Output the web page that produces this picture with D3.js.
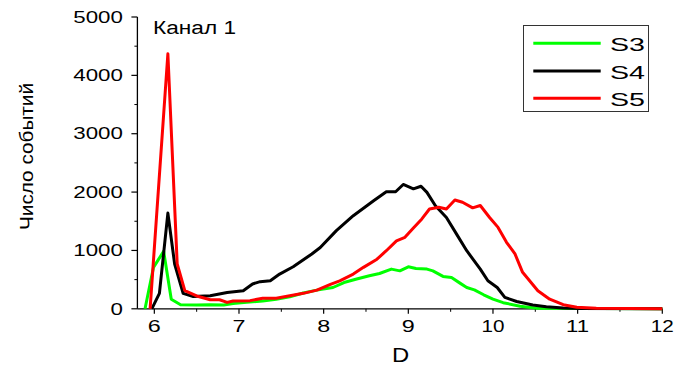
<!DOCTYPE html>
<html><head><meta charset="utf-8">
<script src="https://cdn.jsdelivr.net/npm/d3@7"></script>
<style>
html,body{margin:0;padding:0;background:#fff;}
svg{display:block;}
text{font-family:"Liberation Sans",Arial,sans-serif;fill:#000;}
</style></head>
<body>
<svg id="chart" width="679" height="366"></svg>
<script>
// ---- data ----
const s3D = [5.89,5.99,6.11,6.20,6.31,6.50,6.66,6.82,6.93,7.09,7.28,7.44,7.60,7.76,7.92,8.11,8.24,8.39,8.54,8.66,8.80,8.90,9.00,9.09,9.22,9.29,9.41,9.51,9.61,9.69,9.78,9.89,10.00,10.12,10.32,10.52,12.0];
const s3V = [0,710,985,165,70,65,70,65,90,110,135,165,205,270,320,365,450,510,565,605,680,650,720,690,680,650,555,535,440,365,325,240,165,105,45,10,0];

const s4D = [5.97,6.06,6.16,6.24,6.34,6.46,6.66,6.86,7.05,7.16,7.25,7.37,7.48,7.64,7.86,7.96,8.15,8.35,8.59,8.74,8.85,8.94,9.06,9.15,9.22,9.32,9.45,9.57,9.69,9.85,9.94,10.05,10.14,10.28,10.47,10.63,10.83,11.02,12.0];
const s4V = [0,265,1640,765,265,210,225,280,310,425,465,480,595,720,940,1050,1340,1595,1850,2005,2005,2130,2055,2100,1995,1765,1565,1280,995,680,480,365,195,125,65,35,15,5,0];

const s5D = [5.95,6.16,6.27,6.36,6.50,6.66,6.77,6.86,6.93,7.13,7.28,7.44,7.60,7.76,7.92,8.08,8.19,8.35,8.47,8.63,8.74,8.86,8.96,9.06,9.16,9.25,9.36,9.45,9.55,9.64,9.76,9.85,9.96,10.06,10.16,10.26,10.35,10.53,10.67,10.83,10.99,11.22,12.0];
const s5V = [0,4370,770,310,220,155,155,110,135,140,180,180,225,265,320,420,480,595,710,850,995,1165,1225,1385,1540,1710,1740,1710,1865,1825,1730,1770,1565,1395,1140,940,625,310,165,70,25,10,0];

const seriesNames = ["S3","S4","S5"];
const seriesColors = ["#00ff00","#000000","#ff0000"];
const xTicks = [6,7,8,9,10,11,12];
const yTicks = [0,1000,2000,3000,4000,5000];
const xLabel = "D";
const yLabel = "Число событий";
const annotation = "Канал 1";

const series = [
  {name:seriesNames[0], color:seriesColors[0], pts:s3D.map((d,i)=>[d,s3V[i]])},
  {name:seriesNames[1], color:seriesColors[1], pts:s4D.map((d,i)=>[d,s4V[i]])},
  {name:seriesNames[2], color:seriesColors[2], pts:s5D.map((d,i)=>[d,s5V[i]])}
];

const svg = d3.select("#chart");
const x = d3.scaleLinear().domain([5.8,12]).range([137.4,662.3]);
const y = d3.scaleLinear().domain([0,5000]).range([308.8,17]);

const xMinor = d3.range(6.5,12,1);
const yMinor = d3.range(500,5000,1000);

const gx = svg.append("g").attr("transform",`translate(0,${y(0)})`);
gx.append("line").attr("x1",x(5.8)).attr("x2",x(12)).attr("stroke","#000").attr("stroke-width",1.3);
gx.selectAll(".mj").data(xTicks).join("line").attr("class","mj").attr("x1",d=>x(d)).attr("x2",d=>x(d)).attr("y1",0).attr("y2",5).attr("stroke","#000").attr("stroke-width",1.2);
gx.selectAll(".mn").data(xMinor).join("line").attr("class","mn").attr("x1",d=>x(d)).attr("x2",d=>x(d)).attr("y1",0).attr("y2",3).attr("stroke","#000").attr("stroke-width",1);
gx.selectAll("text").data(xTicks).join("text")
  .attr("x",d=>x(d)).attr("y",23.5).attr("text-anchor","middle")
  .attr("font-size",16.3)
  .attr("textLength",d=>String(d).length===1?13:23).attr("lengthAdjust","spacingAndGlyphs")
  .text(d=>d);

const gy = svg.append("g").attr("transform",`translate(${x(5.8)},0)`);
gy.append("line").attr("y1",y(0)).attr("y2",y(5000)).attr("stroke","#000").attr("stroke-width",1.3);
gy.selectAll(".mj").data(yTicks).join("line").attr("class","mj").attr("y1",d=>y(d)).attr("y2",d=>y(d)).attr("x1",0).attr("x2",-6).attr("stroke","#000").attr("stroke-width",1.2);
gy.selectAll(".mn").data(yMinor).join("line").attr("class","mn").attr("y1",d=>y(d)).attr("y2",d=>y(d)).attr("x1",0).attr("x2",-3).attr("stroke","#000").attr("stroke-width",1);
gy.selectAll("text").data(yTicks).join("text")
  .attr("x",-14.5).attr("y",d=>y(d)+5.7).attr("text-anchor","end")
  .attr("font-size",16)
  .attr("textLength",d=>String(d).length*12.4).attr("lengthAdjust","spacingAndGlyphs")
  .text(d=>d);

// lines
const line = d3.line().x(d=>x(d[0])).y(d=>y(d[1]));
svg.append("g").selectAll("path").data(series).join("path")
  .attr("d",d=>line(d.pts)).attr("fill","none")
  .attr("stroke",d=>d.color).attr("stroke-width",3).attr("stroke-linejoin","round");

// axis titles
svg.append("text").attr("x",400.5).attr("y",361.5).attr("text-anchor","middle")
  .attr("font-size",20.5).attr("textLength",17.2).attr("lengthAdjust","spacingAndGlyphs").text(xLabel);
svg.append("text").attr("transform","translate(33.3,156.5) rotate(-90)").attr("text-anchor","middle")
  .attr("font-size",18).attr("textLength",147).attr("lengthAdjust","spacingAndGlyphs").text(yLabel);

// annotation
svg.append("text").attr("x",153).attr("y",34).attr("font-size",18)
  .attr("textLength",83).attr("lengthAdjust","spacingAndGlyphs").text(annotation);

// legend
const lg = svg.append("g");
lg.append("rect").attr("x",523.5).attr("y",25.5).attr("width",125).attr("height",86)
  .attr("fill","#fff").attr("stroke","#333").attr("stroke-width",1);
const rowsY = [43.3,71,98.3];
series.forEach((s,i)=>{
  lg.append("line").attr("x1",533.3).attr("x2",600.7).attr("y1",rowsY[i]).attr("y2",rowsY[i])
    .attr("stroke",s.color).attr("stroke-width",3);
  lg.append("text").attr("x",610).attr("y",rowsY[i]+7.5).attr("font-size",18)
    .attr("textLength",35).attr("lengthAdjust","spacingAndGlyphs").text(s.name);
});
</script>
</body></html>
